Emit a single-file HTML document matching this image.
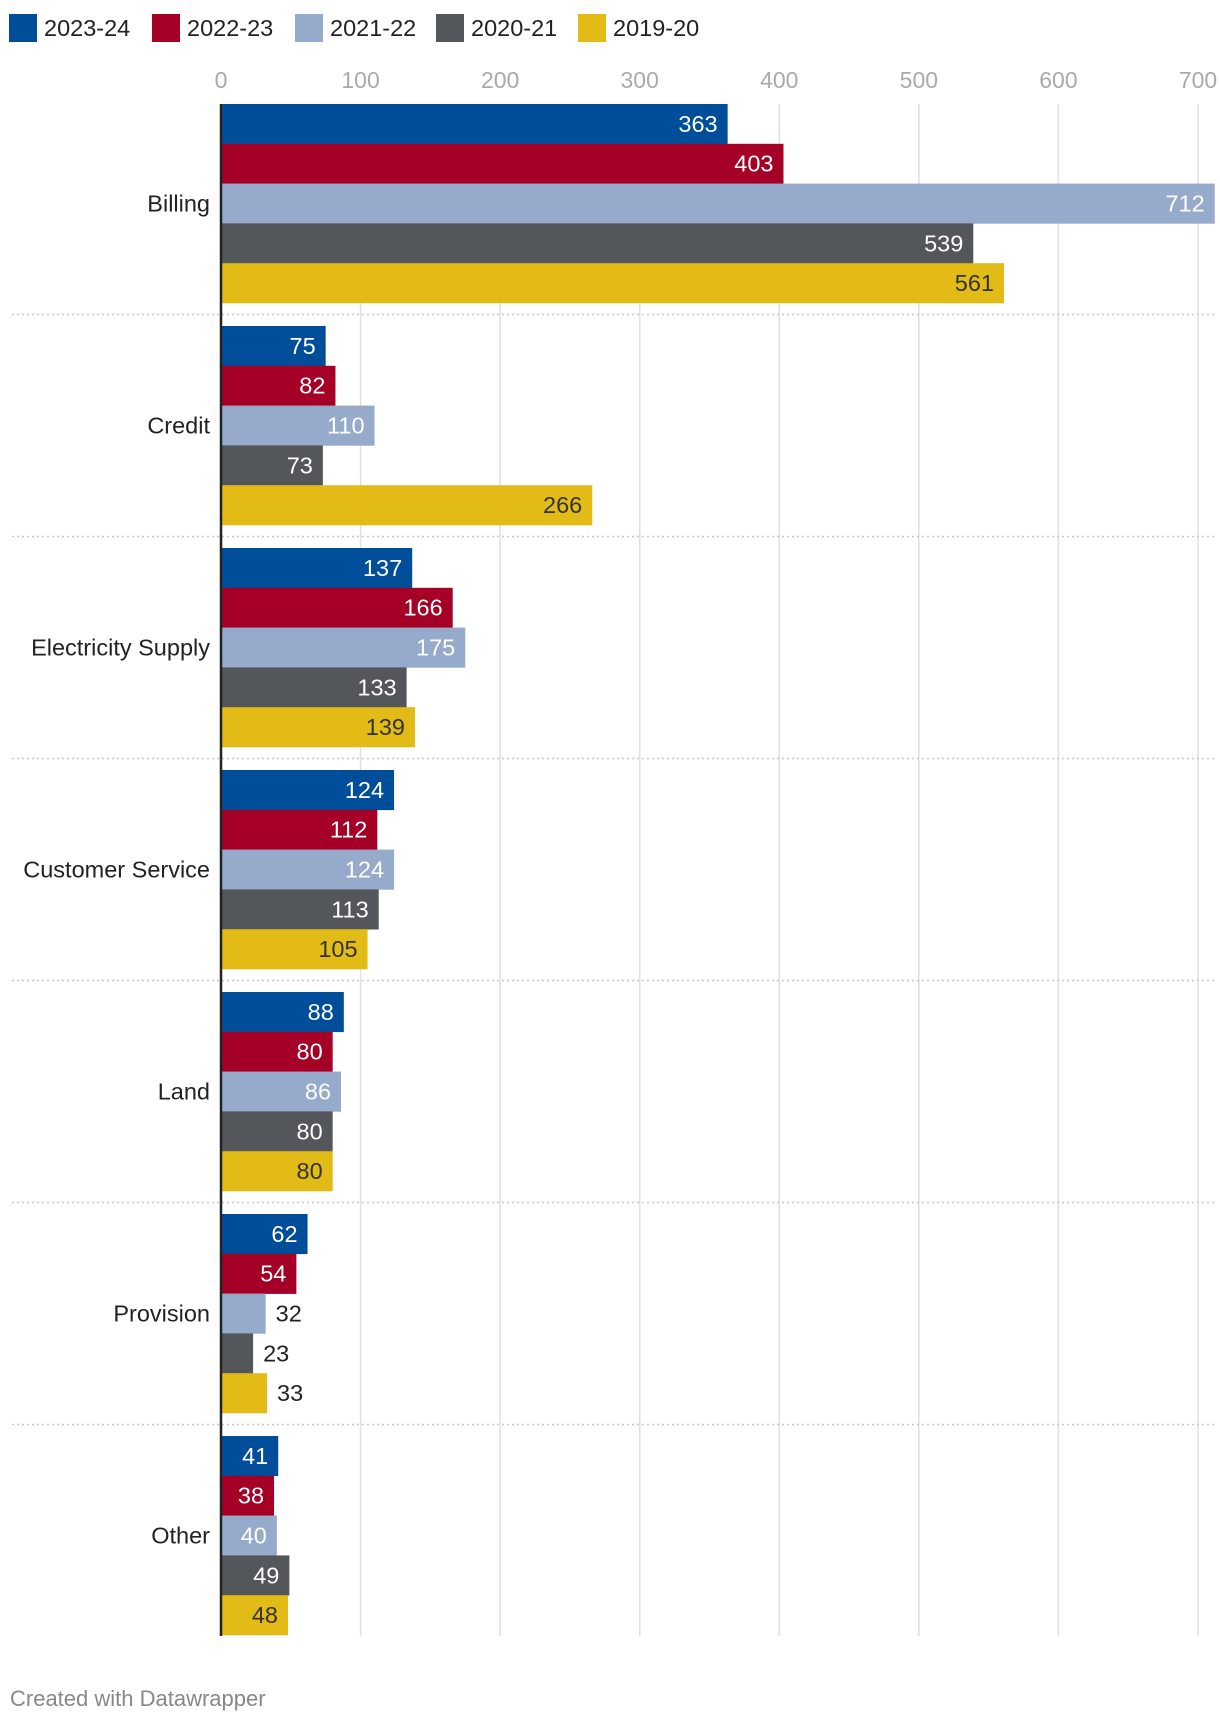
<!DOCTYPE html>
<html><head><meta charset="utf-8"><style>
body{margin:0;background:#fff;width:1220px;height:1714px;overflow:hidden;font-family:"Liberation Sans",sans-serif;}
</style></head><body>
<svg id="chart" width="1220" height="1714" xmlns="http://www.w3.org/2000/svg"></svg>
<script>
const categories=["Billing","Credit","Electricity Supply","Customer Service","Land","Provision","Other"];
const seriesNames=["2023-24","2022-23","2021-22","2020-21","2019-20"];
const s2324=[363,75,137,124,88,62,41];
const s2223=[403,82,166,112,80,54,38];
const s2122=[712,110,175,124,86,32,40];
const s2021=[539,73,133,113,80,23,49];
const s1920=[561,266,139,105,80,33,48];
const ticks=[0,100,200,300,400,500,600,700];
const series=[s2324,s2223,s2122,s2021,s1920];
const colors=["#004e9a","#a50026","#96aacc","#53565a","#e2bb16"];
const labelColors=["#fff","#fff","#fff","#fff","#333"];
const svg=document.getElementById('chart');
const NS="http://www.w3.org/2000/svg";
const x0=221, scale=977/700;
const X=v=>x0+v*scale;
const top0=104, pitch=222, barH=39.8;
function mk(t,a,txt){const e=document.createElementNS(NS,t);for(const k in a)e.setAttribute(k,a[k]);if(txt!==undefined)e.textContent=txt;svg.appendChild(e);return e;}
const lx=[9,152,295,436,578];
seriesNames.forEach((n,i)=>{
  const r=mk('rect',{x:lx[i],y:14,width:28,height:28,fill:colors[i]});
  
  
  const t=mk('text',{x:lx[i]+35,y:36,'font-size':23.5,fill:'#222'},n);
  
  
});
ticks.forEach(v=>{
  const g=mk('line',{x1:X(v),x2:X(v),y1:104,y2:1636,stroke:'#e0e0e0','stroke-width':1.5});
  
  
  const t=mk('text',{x:X(v),y:88,'font-size':23,fill:'#aaa','text-anchor':'middle'},v);
  
  
});
for(let c=1;c<categories.length;c++){
  const y=top0+c*pitch-11.5;
  const l=mk('line',{x1:12,x2:1215,y1:y,y2:y,stroke:'#c8c8c8','stroke-width':1.5,'stroke-dasharray':'2,3'});
  
  
}
categories.forEach((c,ci)=>{
  const gy=top0+ci*pitch;
  const t=mk('text',{x:210,y:gy+barH*2.5+8,'font-size':23.5,fill:'#222','text-anchor':'end'},c);
  
  
  series.forEach((s,si)=>{
    const v=s[ci], y=gy+si*barH, w=X(v)-x0;
    const r=mk('rect',{x:x0,y:y,width:w,height:barH+0.3,fill:colors[si]});
    
    
    const inside=w>50;
    const vt=mk('text',{x:inside?X(v)-10:X(v)+10,y:y+barH/2+8,'font-size':23.5,fill:inside?labelColors[si]:'#222','text-anchor':inside?'end':'start'},v);
    
    
  });
});
const ax=mk('line',{x1:x0,x2:x0,y1:104,y2:1636,stroke:'#222','stroke-width':2.5});


const f=mk('text',{x:10,y:1706,'font-size':22,fill:'#888'},'Created with Datawrapper');


</script>
</body></html>
